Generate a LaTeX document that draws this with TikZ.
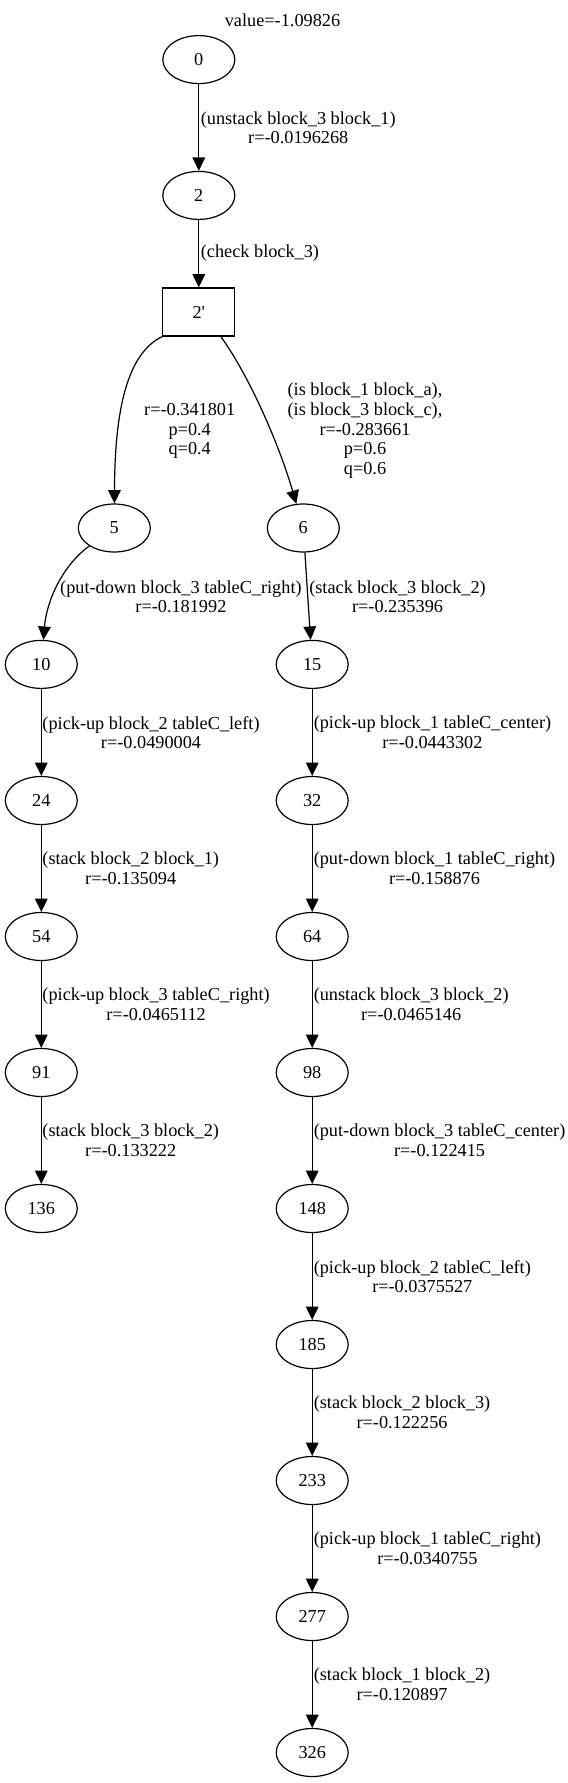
\documentclass[tikz,border=0pt]{standalone}
\usepackage{fontspec}
\setmainfont{Liberation Serif}[Ligatures=TeXOff]
\usetikzlibrary{shapes.geometric,arrows.meta}
\newcommand\lblfont{\fontsize{13.7}{14.7}\selectfont}
\begin{document}
\begin{tikzpicture}[x=0.75pt,y=-0.75pt,
  state/.style={ellipse,draw,line width=0.9pt,minimum width=54pt,minimum height=36pt,inner sep=0pt,font=\lblfont},
  chance/.style={rectangle,draw,line width=0.9pt,minimum width=54pt,minimum height=36pt,inner sep=0pt,font=\lblfont},
  edge/.style={line width=0.9pt,-{Triangle[length=10pt,width=9.5pt]}},
  lbl/.style={align=center,inner sep=0pt,font=\lblfont}]
\useasboundingbox (0,0) rectangle (567,1783);

\node[lbl] (title) at (282.5,20.6) {value=-1.09826};

% nodes
\node[state] (n0) at (198.8,59.6) {0};
\node[state] (n2) at (198.8,195.4) {2};
\node[chance] (n2p) at (198.8,312) {2'};
\node[state] (n5) at (114.3,528) {5};
\node[state] (n6) at (303.3,528) {6};
\node[state] (n10) at (41.3,664.4) {10};
\node[state] (n15) at (312.2,664.4) {15};
\node[state] (n24) at (41.3,800.5) {24};
\node[state] (n32) at (312.2,800.5) {32};
\node[state] (n54) at (41.3,936.5) {54};
\node[state] (n64) at (312.2,936.5) {64};
\node[state] (n91) at (41.3,1072.5) {91};
\node[state] (n98) at (312.2,1072.5) {98};
\node[state] (n136) at (41.3,1208.5) {136};
\node[state] (n148) at (312.2,1208.5) {148};
\node[state] (n185) at (312.2,1344.5) {185};
\node[state] (n233) at (312.2,1480.5) {233};
\node[state] (n277) at (312.2,1616.5) {277};
\node[state] (n326) at (312.2,1752.5) {326};

% edges
\draw[edge] (n0) -- (n2);
\draw[edge] (n2) -- (n2p);
\draw[edge] (n2p.south west) .. controls (123.9,355) and (114.8,420) .. (n5);
\draw[edge] ([xshift=-10.95pt]n2p.south east) .. controls (249.4,376) and (279.3,445) .. (n6);
\draw[edge] (n5) .. controls (63,565) and (46.7,600) .. (n10);
\draw[edge] (n6) -- (n15);
\draw[edge] (n10) -- (n24);
\draw[edge] (n24) -- (n54);
\draw[edge] (n54) -- (n91);
\draw[edge] (n91) -- (n136);
\draw[edge] (n15) -- (n32);
\draw[edge] (n32) -- (n64);
\draw[edge] (n64) -- (n98);
\draw[edge] (n98) -- (n148);
\draw[edge] (n148) -- (n185);
\draw[edge] (n185) -- (n233);
\draw[edge] (n233) -- (n277);
\draw[edge] (n277) -- (n326);

% labels
\node[lbl,anchor=west] (l02) at (200.6,127.7) {(unstack block\_3 block\_1)\\r=-0.0196268};
\node[lbl,anchor=west] (l22p) at (200.6,253.6) {(check block\_3)};
\node[lbl] (l25) at (189.7,431) {r=-0.341801\\p=0.4\\q=0.4};
\node[lbl] (l26) at (365,430.7) {(is block\_1 block\_a),\\(is block\_3 block\_c),\\r=-0.283661\\p=0.6\\q=0.6};
\node[lbl,anchor=west] (l510) at (59.9,596.6) {(put-down block\_3 tableC\_right)\\r=-0.181992};
\node[lbl,anchor=west] (l615) at (309,596.6) {(stack block\_3 block\_2)\\r=-0.235396};
\node[lbl,anchor=west] (l1024) at (42.2,732.5) {(pick-up block\_2 tableC\_left)\\r=-0.0490004};
\node[lbl,anchor=west] (l2454) at (42.2,868.5) {(stack block\_2 block\_1)\\r=-0.135094};
\node[lbl,anchor=west] (l5491) at (42.2,1004.5) {(pick-up block\_3 tableC\_right)\\r=-0.0465112};
\node[lbl,anchor=west] (l91136) at (42.2,1140.5) {(stack block\_3 block\_2)\\r=-0.133222};
\node[lbl,anchor=west] (l1532) at (313.5,732.5) {(pick-up block\_1 tableC\_center)\\r=-0.0443302};
\node[lbl,anchor=west] (l3264) at (313.5,868.5) {(put-down block\_1 tableC\_right)\\r=-0.158876};
\node[lbl,anchor=west] (l6498) at (313.5,1004.5) {(unstack block\_3 block\_2)\\r=-0.0465146};
\node[lbl,anchor=west] (l98148) at (313.5,1140.5) {(put-down block\_3 tableC\_center)\\r=-0.122415};
\node[lbl,anchor=west] (l148185) at (313.5,1276.5) {(pick-up block\_2 tableC\_left)\\r=-0.0375527};
\node[lbl,anchor=west] (l185233) at (313.5,1412.5) {(stack block\_2 block\_3)\\r=-0.122256};
\node[lbl,anchor=west] (l233277) at (313.5,1548.5) {(pick-up block\_1 tableC\_right)\\r=-0.0340755};
\node[lbl,anchor=west] (l277326) at (313.5,1684.5) {(stack block\_1 block\_2)\\r=-0.120897};
\end{tikzpicture}
\end{document}
